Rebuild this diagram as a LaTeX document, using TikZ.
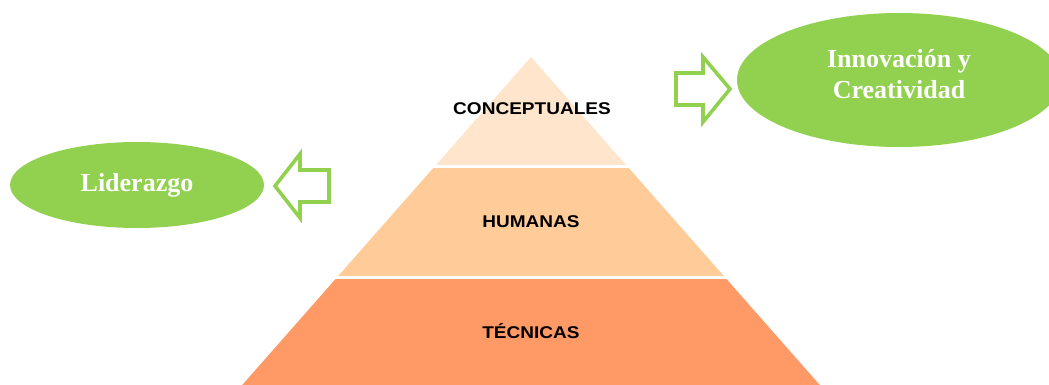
\documentclass[tikz,border=0pt]{standalone}
\usepackage{fontspec}
\setmainfont{Liberation Serif}
\setsansfont{Liberation Sans}
\usepackage{tikz}
\usetikzlibrary{shapes.geometric,positioning}

\definecolor{verde}{HTML}{92D050}
\definecolor{alto}{HTML}{FFE5CC}
\definecolor{medio}{HTML}{FFCC99}
\definecolor{bajo}{HTML}{FF9966}

\begin{document}
\begin{tikzpicture}[x=1pt, y=-1pt,
    oval/.style={ellipse, fill=verde, text=white, inner sep=0pt, align=center,
      font=\fontsize{26}{31}\selectfont\bfseries},
    nivel/.style={anchor=base, xscale=1.12,
      font=\fontsize{17}{20}\selectfont\sffamily\bfseries},
    flecha/.style={draw=verde, line width=3.6pt, fill=white, line join=miter}]
        \useasboundingbox (0,0) rectangle (1049,385);
        \clip (0,0) rectangle (1049,385);

        % piramide
        \begin{scope}
            \clip (531,57) -- (833,400) -- (229,400) -- cycle;
            \fill[alto] (0,0) rectangle (1049,165);
            \fill[medio] (0,168) rectangle (1049,276);
            \fill[bajo] (0,279) rectangle (1049,400);
        \end{scope}

        \node[nivel] (C) at (532,115) {CONCEPTUALES};
        \node[nivel] (H) at (531,227) {HUMANAS};
        \node[nivel] (T) at (531,338) {TÉCNICAS};

        % ovalos
        \node[oval, minimum width=324pt, minimum height=134pt, text depth=12pt] (I) at (899,80) {Innovación y\\Creatividad};
        \node[oval, minimum width=254pt, minimum height=86pt] (L) at (137,185) {Liderazgo};

        % flechas
        \draw[flecha] (676,73) -- (703,73) -- (703,57) -- (730,89) -- (703,122) -- (703,105) -- (676,105) -- cycle;
        \draw[flecha] (329,170) -- (300,170) -- (300,154) -- (275,186) -- (300,218) -- (300,202) -- (329,202) -- cycle;
    \end{tikzpicture}
\end{document}
